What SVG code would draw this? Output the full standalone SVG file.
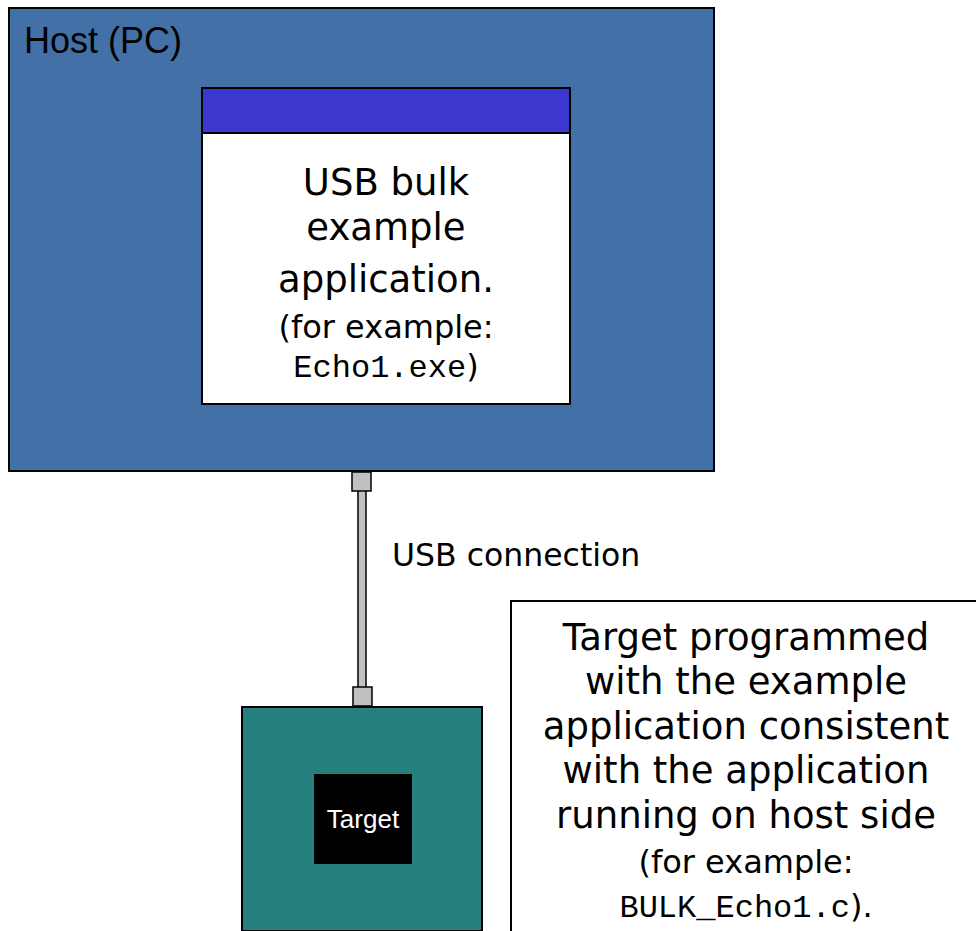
<svg xmlns="http://www.w3.org/2000/svg" width="976" height="931" viewBox="0 0 976 931">
<style>
.box{stroke:#000;stroke-width:2}
.v{font-family:"DejaVu Sans","Verdana",sans-serif;fill:#000}
.a{font-family:"Liberation Sans",Arial,sans-serif}
.m{font-family:"Liberation Mono","Courier New",monospace}
.plug{fill:#c0c0c0;stroke:#000;stroke-width:1.5}
</style>
<rect width="976" height="931" fill="#fff"/>
<g id="host">
<rect class="box" x="9" y="8" width="705" height="463" fill="#4470A8"/>
<text class="a" x="24" y="53" font-size="36" fill="#000">Host (PC)</text>
</g>
<g id="app">
<rect class="box" x="202" y="88" width="368" height="316" fill="#fff"/>
<rect class="box" x="202" y="88" width="368" height="45" fill="#3B37CF"/>
<g class="v" text-anchor="middle">
<text x="386" y="195" font-size="37">USB bulk</text>
<text x="386" y="240" font-size="37">example</text>
<text x="386" y="292" font-size="37">application.</text>
<text x="386" y="338" font-size="32">(for example:</text>
<text x="386" y="377" font-size="32"><tspan class="m">Echo1.exe</tspan>)</text>
</g>
</g>
<g id="connectors">
<rect class="plug" x="358" y="490" width="8" height="198"/>
<rect class="plug" x="352" y="472" width="19" height="19"/>
<rect class="plug" x="353" y="687" width="19" height="19"/>
<text class="v" x="392" y="566" font-size="31.5">USB connection</text>
</g>
<g id="board">
<rect class="box" x="242" y="707" width="240" height="224" fill="#26807E"/>
<rect x="314" y="774" width="98" height="90" fill="#000"/>
<text class="a" x="363" y="828" font-size="26" fill="#fff" text-anchor="middle">Target</text>
</g>
<g id="note">
<rect class="box" x="511" y="601" width="475" height="340" fill="#fff"/>
<g class="v" text-anchor="middle">
<text x="746" y="650" font-size="37">Target programmed</text>
<text x="746" y="694" font-size="37">with the example</text>
<text x="746" y="739" font-size="37">application consistent</text>
<text x="746" y="783" font-size="37">with the application</text>
<text x="746" y="828" font-size="37">running on host side</text>
<text x="746" y="873" font-size="32">(for example:</text>
<text x="746" y="917" font-size="32"><tspan class="m">BULK_Echo1.c</tspan>).</text>
</g>
</g>
</svg>
